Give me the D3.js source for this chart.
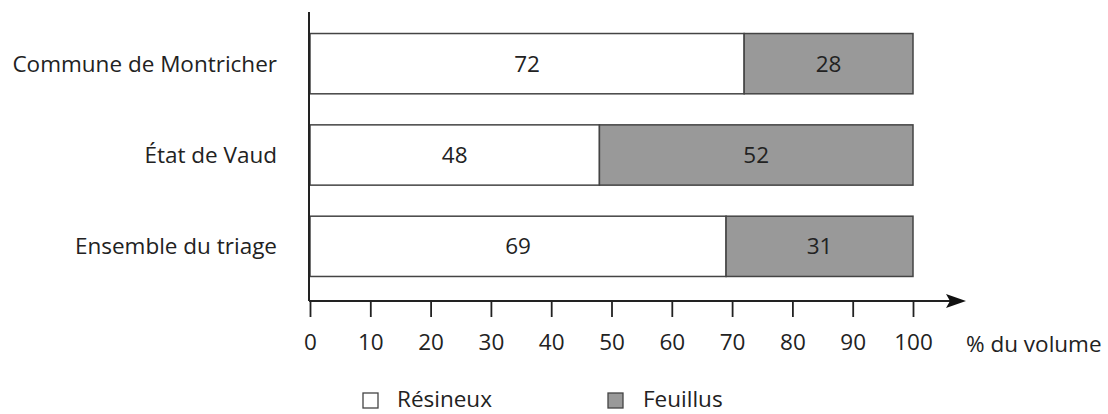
<!DOCTYPE html>
<html><head><meta charset="utf-8">
<script src="https://cdn.jsdelivr.net/npm/d3@7"></script>
<style>body{margin:0;background:#fff}svg{display:block}text{font-family:"Open Sans",sans-serif;fill:#222}</style>
</head><body><svg id="c" width="1108" height="414"></svg>
<script>
const categories = ["Commune de Montricher", "État de Vaud", "Ensemble du triage"];
const resineux = [72, 48, 69];
const feuillus = [28, 52, 31];
const seriesNames = ["Résineux", "Feuillus"];
const tickValues = [0,10,20,30,40,50,60,70,80,90,100];
const axisTitle = "% du volume";

const FS = 22.5;
const svg = d3.select("#c");
const x = d3.scaleLinear().domain([0,100]).range([310,913]);
const y = d3.scaleBand().domain(categories).range([18,292]).paddingInner(0.34).paddingOuter(0.17);
const fills = ["#ffffff", "#999999"];

const data = categories.map((c,i)=>({cat:c, vals:[resineux[i], feuillus[i]]}));
data.forEach(d=>{
  let acc=0;
  d.vals.forEach((v,j)=>{
    const x0=x(acc), x1=x(acc+v);
    svg.append("rect").attr("x",x0).attr("y",y(d.cat)).attr("width",x1-x0).attr("height",y.bandwidth())
      .attr("fill",fills[j]).attr("stroke","#444").attr("stroke-width",1.5);
    svg.append("text").attr("x",(x0+x1)/2).attr("y",y(d.cat)+y.bandwidth()/2).attr("dy","0.35em")
      .attr("text-anchor","middle").attr("font-size",FS).text(v);
    acc+=v;
  });
  svg.append("text").attr("x",277).attr("y",y(d.cat)+y.bandwidth()/2).attr("dy","0.35em")
    .attr("text-anchor","end").attr("font-size",FS).text(d.cat);
});

// y axis line
svg.append("line").attr("x1",309).attr("x2",309).attr("y1",12).attr("y2",301).attr("stroke","#222").attr("stroke-width",2);
// x axis
const axisY=301;
const ax = svg.append("g").attr("transform",`translate(0,${axisY})`)
  .call(d3.axisBottom(x).tickValues(tickValues).tickSize(16).tickPadding(17).tickFormat(d3.format("d")));
ax.select(".domain").remove();
ax.selectAll(".tick line").attr("stroke","#222").attr("stroke-width",1.8);
ax.selectAll(".tick text").attr("font-size",FS).attr("font-family","'Open Sans',sans-serif").attr("fill","#222");
svg.append("line").attr("x1",309).attr("x2",952).attr("y1",axisY).attr("y2",axisY).attr("stroke","#222").attr("stroke-width",2);
svg.append("path").attr("d",`M946,${axisY-7} L966,${axisY} L946,${axisY+7} L950,${axisY} Z`).attr("fill","#111");
svg.append("text").attr("x",966).attr("y",352).attr("font-size",FS).text(axisTitle);

// legend
const legX=[363,608];
const legTX=[397,643];
seriesNames.forEach((n,i)=>{
  svg.append("rect").attr("x",legX[i]).attr("y",393).attr("width",15).attr("height",15)
    .attr("fill",fills[i]).attr("stroke","#444").attr("stroke-width",1.3);
  svg.append("text").attr("x",legTX[i]).attr("y",407).attr("font-size",FS).text(n);
});
</script></body></html>
